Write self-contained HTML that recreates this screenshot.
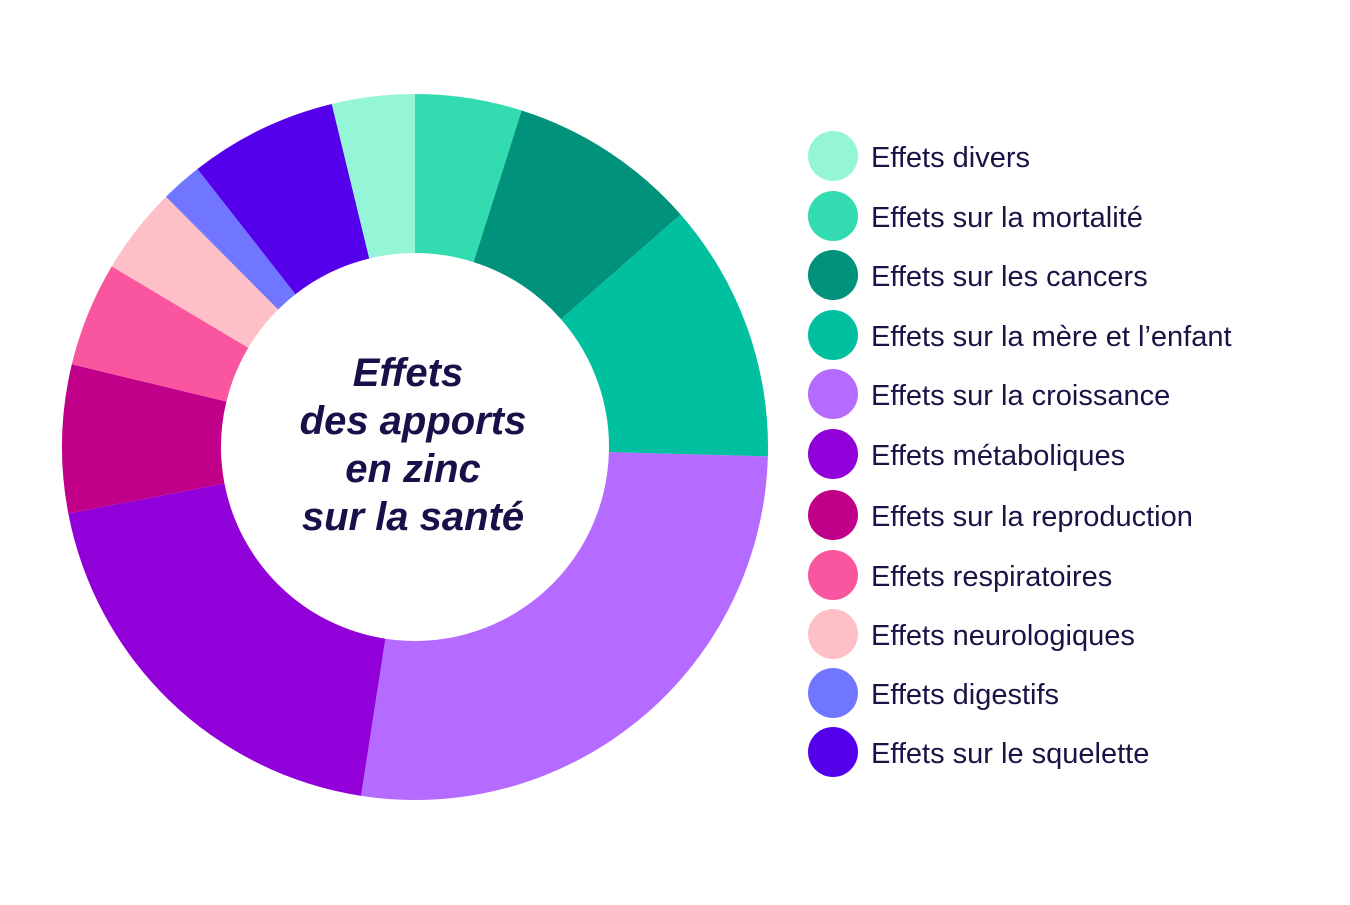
<!DOCTYPE html>
<html><head><meta charset="utf-8">
<style>
html,body{margin:0;padding:0;background:#fff;}
body{width:1350px;height:900px;overflow:hidden;font-family:"Liberation Sans",sans-serif;}
</style></head>
<body>
<svg id="chart" width="1350" height="900" viewBox="0 0 1350 900">
  <g id="slices"></g>
  <g font-family="Liberation Sans, sans-serif" font-weight="bold" font-style="italic" font-size="40" fill="#1b0f4a" text-anchor="middle">
    <text x="408" y="386">Effets</text>
    <text x="413" y="434">des apports</text>
    <text x="413" y="482">en zinc</text>
    <text x="413" y="530">sur la santé</text>
  </g>
  <g id="legend"></g>
</svg>
<script>
const categories = ["Effets sur la mortalité","Effets sur les cancers","Effets sur la mère et l’enfant","Effets sur la croissance","Effets métaboliques","Effets sur la reproduction","Effets respiratoires","Effets neurologiques","Effets digestifs","Effets sur le squelette","Effets divers"];
const values = [4.9, 8.7, 11.9, 27.1, 19.6, 6.8, 4.8, 4.0, 1.9, 6.8, 3.8];
const colors = ["#33dcb0","#00927b","#00c09f","#b56bff","#9100d8","#c1008a","#fa56a0","#ffbfc6","#7076ff","#5400ea","#94f5d7"];
const legendOrder = [10,0,1,2,3,4,5,6,7,8,9];

const NS="http://www.w3.org/2000/svg";
const cx=415, cy=447, R=353, r=194;
const total=values.reduce((a,b)=>a+b,0);
function pt(a,rad){return [cx+rad*Math.sin(a), cy-rad*Math.cos(a)];}
const g=document.getElementById('slices');
let acc=0;
values.forEach((v,i)=>{
  const a0=acc/total*2*Math.PI; acc+=v; const a1=acc/total*2*Math.PI;
  const large=(a1-a0)>Math.PI?1:0;
  const [x0,y0]=pt(a0,R),[x1,y1]=pt(a1,R),[x2,y2]=pt(a1,r),[x3,y3]=pt(a0,r);
  const p=document.createElementNS(NS,'path');
  p.setAttribute('d',`M${x0},${y0}A${R},${R} 0 ${large} 1 ${x1},${y1}L${x2},${y2}A${r},${r} 0 ${large} 0 ${x3},${y3}Z`);
  p.setAttribute('fill',colors[i]);
  
  
  g.appendChild(p);
});
const lg=document.getElementById('legend');
const ly=[156,216,275,335,394,454,515,575,634,693,752];
legendOrder.forEach((idx,k)=>{
  const c=document.createElementNS(NS,'circle');
  c.setAttribute('cx',833);c.setAttribute('cy',ly[k]);c.setAttribute('r',25);
  c.setAttribute('fill',colors[idx]);
  
  
  lg.appendChild(c);
  const t=document.createElementNS(NS,'text');
  t.setAttribute('x',871);t.setAttribute('y',ly[k]+11);
  t.setAttribute('font-size','29');t.setAttribute('fill','#1a1446');
  t.setAttribute('font-family','Liberation Sans, sans-serif');
  t.textContent=categories[idx];
  
  
  lg.appendChild(t);
});
</script>
</body></html>
